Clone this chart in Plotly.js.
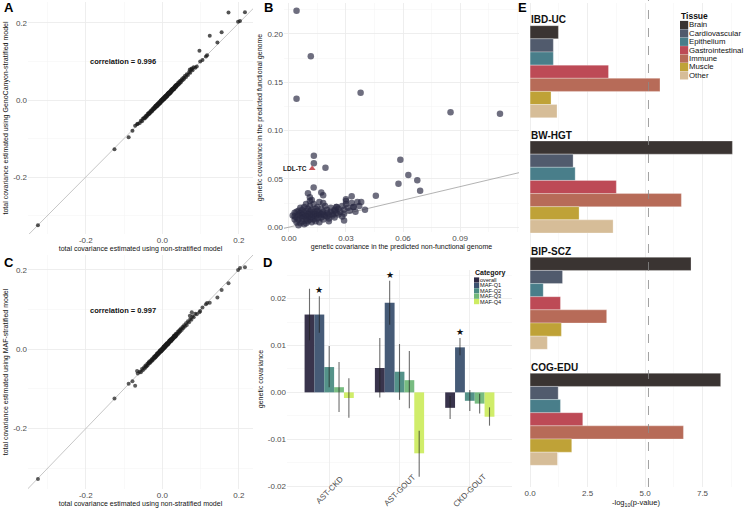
<!DOCTYPE html>
<html>
<head>
<meta charset="utf-8">
<script src="https://cdn.plot.ly/plotly-3.0.1.min.js"></script>
<style>
  html, body { margin: 0; padding: 0; background: #fff; }
  #fig { width: 754px; height: 509px; }
</style>
</head>
<body>
<div id="fig"></div>
<script>
// ---------- panels A and C: total covariance (same x in both panels)
const nonStratified = [
  -0.064, -0.059, -0.056, -0.053, -0.051, -0.048, -0.046, -0.044, -0.043, -0.041,
  -0.039, -0.038, -0.036, -0.035, -0.034, -0.032, -0.031, -0.030, -0.028, -0.027,
  -0.026, -0.025, -0.023, -0.022, -0.021, -0.020, -0.019, -0.018, -0.017, -0.016,
  -0.015, -0.014, -0.013, -0.012, -0.011, -0.010, -0.009, -0.008, -0.007, -0.006,
  -0.005, -0.004, -0.003, -0.002, -0.001, 0.000, 0.001, 0.002, 0.003, 0.004,
  0.005, 0.006, 0.007, 0.008, 0.009, 0.010, 0.011, 0.012, 0.013, 0.014,
  0.015, 0.016, 0.017, 0.018, 0.019, 0.020, 0.021, 0.022, 0.023, 0.024,
  0.025, 0.026, 0.027, 0.028, 0.029, 0.030, 0.031, 0.032, 0.033, 0.034,
  0.035, 0.036, 0.037, 0.038, 0.040, 0.041, 0.043, 0.044, 0.046, 0.047,
  0.049, 0.051, 0.053, 0.055, 0.057, 0.059, 0.062, 0.064, 0.067, 0.070,
  0.073, 0.076, 0.079, 0.082, 0.086,
  0.0015, 0.0045, 0.0085, 0.0125, 0.0165, 0.0215, 0.0265, 0.0055, 0.0105, -0.0025,
  -0.0065, 0.0185, 0.0235, 0.0035, 0.0145, -0.0125, -0.0175, 0.0305, 0.0345, 0.0075,
  -0.325, -0.125, -0.088, -0.078, -0.071, -0.066, 0.173, 0.216, 0.198, 0.203,
  0.124, 0.155, 0.144, 0.097, 0.099, 0.105, 0.114, 0.117, 0.090, 0.077, 0.072
];
const genoCanyon = [
  -0.062, -0.060, -0.054, -0.055, -0.049, -0.047, -0.048, -0.042, -0.045, -0.040,
  -0.041, -0.036, -0.037, -0.033, -0.036, -0.031, -0.033, -0.028, -0.030, -0.026,
  -0.028, -0.023, -0.025, -0.020, -0.023, -0.018, -0.021, -0.016, -0.019, -0.014,
  -0.017, -0.012, -0.015, -0.010, -0.013, -0.008, -0.011, -0.006, -0.009, -0.004,
  -0.007, -0.002, -0.005, 0.000, -0.003, 0.002, -0.001, 0.004, 0.001, 0.006,
  0.003, 0.008, 0.005, 0.010, 0.007, 0.012, 0.009, 0.014, 0.011, 0.016,
  0.013, 0.018, 0.015, 0.020, 0.017, 0.022, 0.019, 0.024, 0.021, 0.026,
  0.023, 0.028, 0.025, 0.030, 0.027, 0.032, 0.029, 0.035, 0.031, 0.036,
  0.033, 0.039, 0.035, 0.040, 0.038, 0.044, 0.041, 0.047, 0.044, 0.050,
  0.047, 0.054, 0.051, 0.058, 0.055, 0.062, 0.060, 0.067, 0.065, 0.073,
  0.071, 0.079, 0.077, 0.085, 0.084,
  0.004, 0.002, 0.011, 0.010, 0.019, 0.019, 0.029, 0.008, 0.008, 0.000,
  -0.009, 0.016, 0.026, 0.001, 0.017, -0.015, -0.015, 0.028, 0.037, 0.005,
  -0.325, -0.128, -0.097, -0.080, -0.067, -0.063, 0.227, 0.228, 0.203, 0.205,
  0.167, 0.176, 0.149, 0.128, 0.100, 0.104, 0.113, 0.116, 0.087, 0.082, 0.079
];
const mafStratified = [
  -0.061, -0.057, -0.058, -0.050, -0.053, -0.046, -0.049, -0.041, -0.044, -0.043,
  -0.037, -0.040, -0.034, -0.036, -0.031, -0.034, -0.030, -0.032, -0.026, -0.029,
  -0.025, -0.027, -0.021, -0.024, -0.019, -0.022, -0.017, -0.020, -0.016, -0.018,
  -0.013, -0.016, -0.011, -0.014, -0.010, -0.012, -0.007, -0.010, -0.005, -0.008,
  -0.003, -0.006, -0.001, -0.004, 0.001, -0.002, 0.003, 0.000, 0.005, 0.002,
  0.007, 0.004, 0.009, 0.006, 0.011, 0.008, 0.013, 0.010, 0.015, 0.012,
  0.017, 0.014, 0.019, 0.016, 0.021, 0.018, 0.023, 0.020, 0.025, 0.022,
  0.027, 0.024, 0.029, 0.026, 0.031, 0.028, 0.034, 0.030, 0.035, 0.032,
  0.038, 0.034, 0.039, 0.036, 0.043, 0.039, 0.046, 0.042, 0.049, 0.045,
  0.052, 0.049, 0.056, 0.053, 0.060, 0.057, 0.065, 0.061, 0.070, 0.068,
  0.076, 0.074, 0.083, 0.080, 0.089,
  -0.001, 0.007, 0.006, 0.015, 0.014, 0.024, 0.024, 0.003, 0.013, -0.005,
  -0.004, 0.021, 0.021, 0.006, 0.012, -0.010, -0.020, 0.033, 0.032, 0.010,
  -0.327, -0.124, -0.087, -0.081, -0.092, -0.055, 0.166, 0.206, 0.199, 0.204,
  0.117, 0.149, 0.130, 0.093, 0.096, 0.105, 0.113, 0.116, 0.088, 0.093, 0.084
];
const corrA = 'correlation = 0.996';
const corrC = 'correlation = 0.997';
const acTickVals = [-0.2, 0, 0.2];
const acTickText = ['-0.2', '0.0', '0.2'];

// ---------- panel B: functional vs non-functional genetic covariance
const nonFunctional = [
  0.002, 0.003, 0.003, 0.004, 0.004, 0.005, 0.005, 0.005, 0.006, 0.006,
  0.006, 0.007, 0.007, 0.007, 0.007, 0.008, 0.008, 0.008, 0.008, 0.009,
  0.009, 0.009, 0.009, 0.010, 0.010, 0.010, 0.010, 0.011, 0.011, 0.011,
  0.011, 0.011, 0.012, 0.012, 0.012, 0.012, 0.013, 0.013, 0.013, 0.013,
  0.014, 0.014, 0.014, 0.014, 0.015, 0.015, 0.015, 0.016, 0.016, 0.016,
  0.017, 0.017, 0.017, 0.018, 0.018, 0.018, 0.019, 0.019, 0.020, 0.020,
  0.020, 0.021, 0.021, 0.022, 0.022, 0.023, 0.023, 0.024, 0.024, 0.025,
  0.025, 0.026, 0.026, 0.027, 0.028, 0.028, 0.029, 0.029, 0.030, 0.030,
  0.031, 0.032, 0.033, 0.033, 0.034, 0.035, 0.036, 0.037, 0.013, 0.017,
  0.018, 0.010, 0.011, 0.012, 0.018, 0.015, 0.030, 0.025, 0.024, 0.034,
  0.038, 0.029, 0.005, 0.006, 0.004, 0.003, 0.009, 0.016, 0.021,
  0.004, 0.0115, 0.004, 0.0377, 0.085, 0.111, 0.0586, 0.0628, 0.0576, 0.0675,
  0.069, 0.0457, 0.0192, 0.0131, 0.0131, 0.040
];
const functional = [
  0.012, 0.008, 0.015, 0.010, 0.005, 0.013, 0.017, 0.008, 0.011, 0.004,
  0.015, 0.009, 0.013, 0.018, 0.006, 0.011, 0.003, 0.015, 0.021, 0.008,
  0.012, 0.017, 0.024, 0.010, 0.006, 0.014, 0.019, 0.012, 0.008, 0.016,
  0.022, 0.027, 0.010, 0.014, 0.005, 0.018, 0.012, 0.008, 0.016, 0.024,
  0.011, 0.014, 0.019, 0.006, 0.013, 0.009, 0.017, 0.012, 0.015, 0.026,
  0.010, 0.014, 0.019, 0.013, 0.016, 0.008, 0.012, 0.022, 0.015, 0.011,
  0.018, 0.013, 0.009, 0.016, 0.020, 0.012, 0.014, 0.017, 0.010, 0.015,
  0.021, 0.013, 0.019, 0.016, 0.022, 0.011, 0.018, 0.014, 0.024, 0.027,
  0.020, 0.017, 0.032, 0.025, 0.021, 0.016, 0.026, 0.022, 0.041, 0.036,
  0.033, 0.035, 0.031, 0.028, 0.025, 0.021, 0.029, 0.021, 0.018, 0.021,
  0.026, 0.007, 0.002, 0.020, 0.016, 0.011, 0.004, 0.005, 0.006,
  0.224, 0.177, 0.133, 0.139, 0.119, 0.1175, 0.0697, 0.054, 0.0449, 0.0486,
  0.0376, 0.0324, 0.0614, 0.0738, 0.0662, 0.0179
];
const highlightName = ['LDL-TC'];
const highlightX = [0.0122];
const highlightY = [0.0607];
const fitSlope = 0.466;
const bxTickVals = [0, 0.03, 0.06, 0.09];
const bxTickText = ['0.00', '0.03', '0.06', '0.09'];
const byTickVals = [0, 0.05, 0.10, 0.15, 0.20];
const byTickText = ['0.00', '0.05', '0.10', '0.15', '0.20'];

// ---------- panel D: genetic covariance by MAF category
const pairs = ['AST-CKD', 'AST-GOUT', 'CKD-GOUT'];
const categories = ['overall', 'MAF-Q1', 'MAF-Q2', 'MAF-Q3', 'MAF-Q4'];
const catColors = ['#2e2942', '#3c5270', '#4b8c83', '#71b87a', '#cdec62'];
const covOverall = [0.0166, 0.0052, -0.0033];
const covQ1 = [0.0166, 0.0191, 0.0096];
const covQ2 = [0.0054, 0.0044, -0.0018];
const covQ3 = [0.0011, 0.0026, -0.0024];
const covQ4 = [-0.0012, -0.0130, -0.0052];
const lowOverall = [0.0111, -0.0011, -0.0057];
const lowQ1 = [0.0127, 0.0144, 0.0079];
const lowQ2 = [0.0011, -0.0016, -0.0040];
const lowQ3 = [-0.0042, -0.0034, -0.0045];
const lowQ4 = [-0.0054, -0.0180, -0.0071];
const highOverall = [0.0221, 0.0116, -0.0008];
const highQ1 = [0.0205, 0.0238, 0.0116];
const highQ2 = [0.0099, 0.0103, 0.0005];
const highQ3 = [0.0065, 0.0088, -0.0003];
const highQ4 = [0.0030, -0.0082, -0.0032];
const starred = [true, true, true];   // MAF-Q1 significant in every pair
const dTickVals = [-0.02, -0.01, 0, 0.01, 0.02];
const dTickText = ['-0.02', '-0.01', '0.00', '0.01', '0.02'];

// ---------- panel E: tissue enrichment
const traitPairs = ['IBD-UC', 'BW-HGT', 'BIP-SCZ', 'COG-EDU'];
const tissues = ['Brain', 'Cardiovascular', 'Epithelium', 'Gastrointestinal', 'Immune', 'Muscle', 'Other'];
const tissueColors = ['#3a3432', '#515b6d', '#497e8a', '#bd4a56', '#b76b58', '#bfa237', '#d6bd98'];
const ibdUc = [1.23, 1.01, 1.01, 3.41, 5.65, 0.91, 1.17];
const bwHgt = [8.80, 1.87, 1.96, 3.75, 6.58, 2.13, 3.61];
const bipScz = [7.00, 1.41, 0.57, 1.32, 3.33, 1.36, 0.75];
const cogEdu = [8.29, 1.22, 1.32, 2.29, 6.67, 1.81, 1.19];
const threshold = 5.15;
const eTickVals = [0, 2.5, 5, 7.5];
const eTickText = ['0.0', '2.5', '5.0', '7.5'];

// ---------------------------------------------------------------
const W = 754, H = 509;
const px = v => v / W;          // pixel -> paper x
const py = v => 1 - v / H;      // pixel -> paper y
const FONT = 'Liberation Sans, Arial, sans-serif';

function axis(opts) {
    return Object.assign({
        showline: false,
        zeroline: false,
        ticks: '',
        showgrid: true,
        gridcolor: '#ebebeb',
        gridwidth: 0.8,
        tickfont: { size: 8, color: '#4d4d4d', family: FONT },
        automargin: false
    }, opts);
}
function minor(dtick) {
    return { showgrid: true, dtick: dtick, gridcolor: '#f4f4f4', gridwidth: 0.5, ticks: '' };
}
function title(text, standoff) {
    return { text: text, font: { size: 7, color: '#111', family: FONT }, standoff: standoff };
}
function note(x, y, text, size, extra) {
    return Object.assign({ xref: 'paper', yref: 'paper', x: x, y: y, text: text, showarrow: false,
        xanchor: 'center', yanchor: 'middle', font: { size: size, color: '#111', family: FONT } }, extra || {});
}

const data = [];

// A
data.push({ x: [-0.4, 0.3], y: [-0.4, 0.3], mode: 'lines', xaxis: 'x', yaxis: 'y',
    line: { color: '#b8b8b8', width: 0.8 }, hoverinfo: 'skip' });
data.push({ x: nonStratified, y: genoCanyon, mode: 'markers', xaxis: 'x', yaxis: 'y',
    marker: { size: 4, color: 'rgba(25,25,25,0.75)' } });
// C
data.push({ x: [-0.4, 0.3], y: [-0.4, 0.3], mode: 'lines', xaxis: 'x3', yaxis: 'y3',
    line: { color: '#b8b8b8', width: 0.8 }, hoverinfo: 'skip' });
data.push({ x: nonStratified, y: mafStratified, mode: 'markers', xaxis: 'x3', yaxis: 'y3',
    marker: { size: 4, color: 'rgba(25,25,25,0.7)' } });
// B
data.push({ x: [-0.01, 0.13], y: [-0.01 * fitSlope, 0.13 * fitSlope], mode: 'lines', xaxis: 'x2', yaxis: 'y2',
    line: { color: '#a0a0a0', width: 0.8 } });
data.push({ x: nonFunctional, y: functional, mode: 'markers', xaxis: 'x2', yaxis: 'y2',
    marker: { size: 6.5, color: 'rgba(42,42,66,0.68)' } });
data.push({ x: highlightX, y: highlightY, mode: 'markers', xaxis: 'x2', yaxis: 'y2',
    marker: { size: 6, symbol: 'triangle-up', color: '#c9555b' } });

// D
const covs = [covOverall, covQ1, covQ2, covQ3, covQ4];
const lows = [lowOverall, lowQ1, lowQ2, lowQ3, lowQ4];
const highs = [highOverall, highQ1, highQ2, highQ3, highQ4];
categories.forEach((cat, i) => {
    data.push({
        type: 'bar', x: pairs, y: covs[i], name: cat, xaxis: 'x4', yaxis: 'y4',
        marker: { color: catColors[i], opacity: 0.95 },
        error_y: {
            type: 'data', symmetric: false,
            array: highs[i].map((h, k) => h - covs[i][k]),
            arrayminus: lows[i].map((l, k) => covs[i][k] - l),
            color: 'rgba(30,30,30,0.65)', thickness: 1.1, width: 0
        }
    });
});

// E - one horizontal bar trace per trait pair (facet)
const eValues = [ibdUc, bwHgt, bipScz, cogEdu];
eValues.forEach((vals, f) => {
    data.push({
        type: 'bar', orientation: 'h', x: vals, y: tissues, xaxis: 'x5', yaxis: 'y' + (5 + f),
        width: 1, marker: { color: tissueColors, line: { color: 'rgba(255,255,255,0.35)', width: 0.8 } }
    });
});

// E facet geometry in pixels: [domain top, domain bottom, first bar top, last bar bottom]
const eBottom = 487;
const eFacets = [[3, 129, 25.7, 117.7], [129, 245, 141, 233], [245, 361, 257.3, 349.3], [361, eBottom, 373.3, 465.3]];

const layout = {
    width: W, height: H,
    margin: { l: 0, r: 0, t: 0, b: 0 },
    paper_bgcolor: '#fff', plot_bgcolor: '#fff',
    font: { family: FONT },
    showlegend: false,
    barmode: 'group', bargap: 0.3, bargroupgap: 0,

    xaxis: axis({ domain: [px(28), px(253)], range: [-0.351, 0.237], anchor: 'y',
        tickvals: acTickVals, ticktext: acTickText, minor: minor(0.1),
        title: title('total covariance estimated using non-stratified model', 1) }),
    yaxis: axis({ domain: [py(234), py(2)], range: [-0.348, 0.2545], anchor: 'x',
        tickvals: acTickVals, ticktext: acTickText, minor: minor(0.1),
        title: title('total covariance estimated using GenoCanyon-stratified model', 3) }),

    xaxis3: axis({ domain: [px(28), px(253)], range: [-0.351, 0.237], anchor: 'y3',
        tickvals: acTickVals, ticktext: acTickText, minor: minor(0.1),
        title: title('total covariance estimated using non-stratified model', 1) }),
    yaxis3: axis({ domain: [py(489), py(255)], range: [-0.352, 0.237], anchor: 'x3',
        tickvals: acTickVals, ticktext: acTickText, minor: minor(0.1),
        title: title('total covariance estimated using MAF-stratified model', 3) }),

    xaxis2: axis({ domain: [px(284), px(519)], range: [-0.0026, 0.121], anchor: 'y2',
        tickvals: bxTickVals, ticktext: bxTickText, minor: minor(0.015),
        title: title('genetic covariance in the predicted non-functional genome', 1) }),
    yaxis2: axis({ domain: [py(232), py(3)], range: [-0.005, 0.232], anchor: 'x2',
        tickvals: byTickVals, ticktext: byTickText, minor: minor(0.025),
        title: title('genetic covariance in the predicted functional genome', 3) }),

    xaxis4: axis({ domain: [px(287), px(512)], range: [-0.6, 2.6], anchor: 'y4', type: 'category',
        showticklabels: false }),
    yaxis4: axis({ domain: [py(488), py(270)], range: [-0.0204, 0.0261], anchor: 'x4',
        tickvals: dTickVals, ticktext: dTickText, minor: minor(0.005),
        title: title('genetic covariance', 3) }),

    // its title is placed as a note below (axis titles are held inside the zero margin)
    xaxis5: axis({ domain: [px(520), px(742.5)], range: [-0.44, 9.24], anchor: 'y8',
        tickvals: eTickVals, ticktext: eTickText, minor: minor(1.25) }),

    shapes: [], annotations: []
};

eFacets.forEach((g, f) => {
    const u = (g[3] - g[2]) / tissues.length;
    layout['yaxis' + (5 + f)] = {
        domain: [py(g[1]), py(g[0])], anchor: 'x5', type: 'category', categoryarray: tissues,
        range: [tissues.length - 0.5 + (g[1] - g[3]) / u, -0.5 - (g[2] - g[0]) / u],
        showgrid: false, showticklabels: false, zeroline: false, showline: false, ticks: ''
    };
    layout.annotations.push(note(px(529), py(g[2] - 6), '<b>' + traitPairs[f] + '</b>', 10, { xanchor: 'left' }));
});
layout.annotations.push(note(px(636), py(502.5), '-log<sub>10</sub>(p-value)', 7.5));

// threshold line in E
layout.shapes.push({ type: 'line', xref: 'x5', yref: 'paper', x0: threshold, x1: threshold,
    y0: py(eBottom), y1: py(0), line: { color: '#8a8a8a', width: 0.8, dash: 'dash' } });

// D category labels, rotated 45 degrees and centred under each group
pairs.forEach((p, k) => {
    layout.annotations.push({ xref: 'x4', yref: 'paper', x: k, y: py(490), text: p, textangle: -45,
        showarrow: false, xanchor: 'center', yanchor: 'middle',
        font: { size: 8, color: '#4d4d4d', family: FONT } });
});

// stars above significant MAF-Q1 bars
const q1Offset = -0.35 + 0.14 * 1.5;
starred.forEach((s, k) => {
    if (!s) return;
    layout.annotations.push({ xref: 'x4', yref: 'y4', x: k + q1Offset, y: highQ1[k] + 0.0013,
        text: '★', showarrow: false, yanchor: 'middle', font: { size: 9, color: '#111' } });
});

// correlation labels and point label
layout.annotations.push(
    note(px(123), py(62), '<b>' + corrA + '</b>', 7.5),
    note(px(123), py(310), '<b>' + corrC + '</b>', 7.5),
    { xref: 'x2', yref: 'y2', x: highlightX[0] - 0.0017, y: highlightY[0], text: '<b>' + highlightName[0] + '</b>',
      showarrow: false, xanchor: 'right', yanchor: 'middle', font: { size: 6.5, color: '#222', family: FONT } }
);

// panel letters
[['A', 2, 7], ['B', 262, 7], ['C', 2, 262], ['D', 261, 262], ['E', 516, 7]].forEach(p => {
    layout.annotations.push(note(px(p[1]), py(p[2]), '<b>' + p[0] + '</b>', 13, { xanchor: 'left',
        font: { size: 13, color: '#000', family: FONT } }));
});

// compact ggplot-style legends
function legend(titleText, names, colors, x0, yTitle, y0, step, box, fs, tfs) {
    layout.annotations.push(note(px(x0 - 1), py(yTitle), '<b>' + titleText + '</b>', tfs, { xanchor: 'left' }));
    names.forEach((n, i) => {
        const yc = y0 + i * step;
        layout.shapes.push({ type: 'rect', xref: 'paper', yref: 'paper', x0: px(x0), x1: px(x0 + box),
            y0: py(yc + box / 2), y1: py(yc - box / 2), fillcolor: colors[i], line: { width: 0 } });
        layout.annotations.push(note(px(x0 + box), py(yc), n, fs, { xanchor: 'left', borderpad: 0,
            font: { size: fs, color: '#111', family: FONT } }));
    });
}
legend('Category', categories, catColors, 474, 273, 280, 5.4, 5.2, 5.6, 7);
legend('Tissue', tissues, tissueColors, 680, 16, 25, 8.4, 8.2, 7.8, 8.5);

Plotly.newPlot('fig', data, layout, { displayModeBar: false, staticPlot: true });
</script>
</body>
</html>
